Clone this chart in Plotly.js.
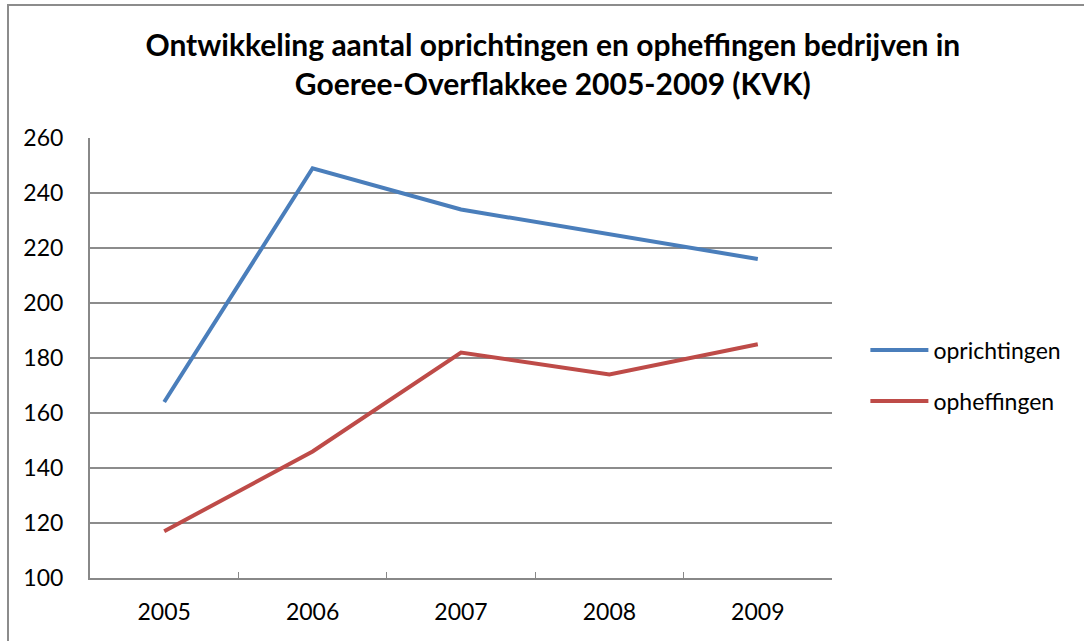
<!DOCTYPE html>
<html>
<head>
<meta charset="utf-8">
<script src="https://cdn.plot.ly/plotly-3.0.1.min.js"></script>
<style>
  body { margin:0; background:#fff; }
  #frame { position:absolute; left:7px; top:4px; width:1100px; height:660px; border:2px solid #8c8c8c; }
  #chart { position:absolute; left:0; top:0; width:1084px; height:641px; }
</style>
</head>
<body>
<div id="frame"></div>
<div id="chart"></div>
<script>
// jaren en aantallen (KVK)
const jaren = ["2005","2006","2007","2008","2009"];
const oprichtingen = [164, 249, 234, 225, 216];
const opheffingen = [117, 146, 182, 174, 185];

const font = "Lato, 'Open Sans', sans-serif";

const traces = [
  {
    x: jaren, y: oprichtingen, name: "oprichtingen", legendgroup:"a",
    mode: "lines", line: {color:"#4a7ebb", width:4}
  },
  {
    x: jaren, y: opheffingen, name: "opheffingen", legendgroup:"b",
    mode: "lines", line: {color:"#be4b48", width:4}
  }
];

const layout = {
  width:1084, height:641,
  paper_bgcolor:"rgba(0,0,0,0)", plot_bgcolor:"#fff",
  margin:{l:90, r:252, t:138, b:63},
  font:{family:font, size:23, color:"#000"},
  title:{
    text:"<b>Ontwikkeling aantal oprichtingen en opheffingen bedrijven in<br>Goeree-Overflakkee 2005-2009 (KVK)</b>",
    font:{family:font, size:30, color:"#000"},
    x:0.51, xanchor:"center", y:0.912, yanchor:"middle"
  },
  xaxis:{
    type:"category", range:[-0.5, 4.5], tickson:"boundaries", ticks:"inside", ticklen:6, tickcolor:"#888",
    showline:true, linecolor:"#888", linewidth:2, showgrid:false, ticklabelstandoff:12,
    tickfont:{size:23}, fixedrange:true
  },
  yaxis:{
    range:[100,260], dtick:20, showgrid:true, gridcolor:"#8c8c8c", gridwidth:1.5,
    showline:true, linecolor:"#888", linewidth:2, ticks:"", ticklabelstandoff:20,
    zeroline:false, tickfont:{size:23}, fixedrange:true
  },
  legend:{
    x:1.045, y:0.46, xanchor:"left", yanchor:"middle",
    itemwidth:58, tracegroupgap:18, font:{size:23},
    bgcolor:"rgba(0,0,0,0)"
  },
  showlegend:true
};

Plotly.newPlot("chart", traces, layout, {displayModeBar:false, staticPlot:true});
</script>
</body>
</html>
